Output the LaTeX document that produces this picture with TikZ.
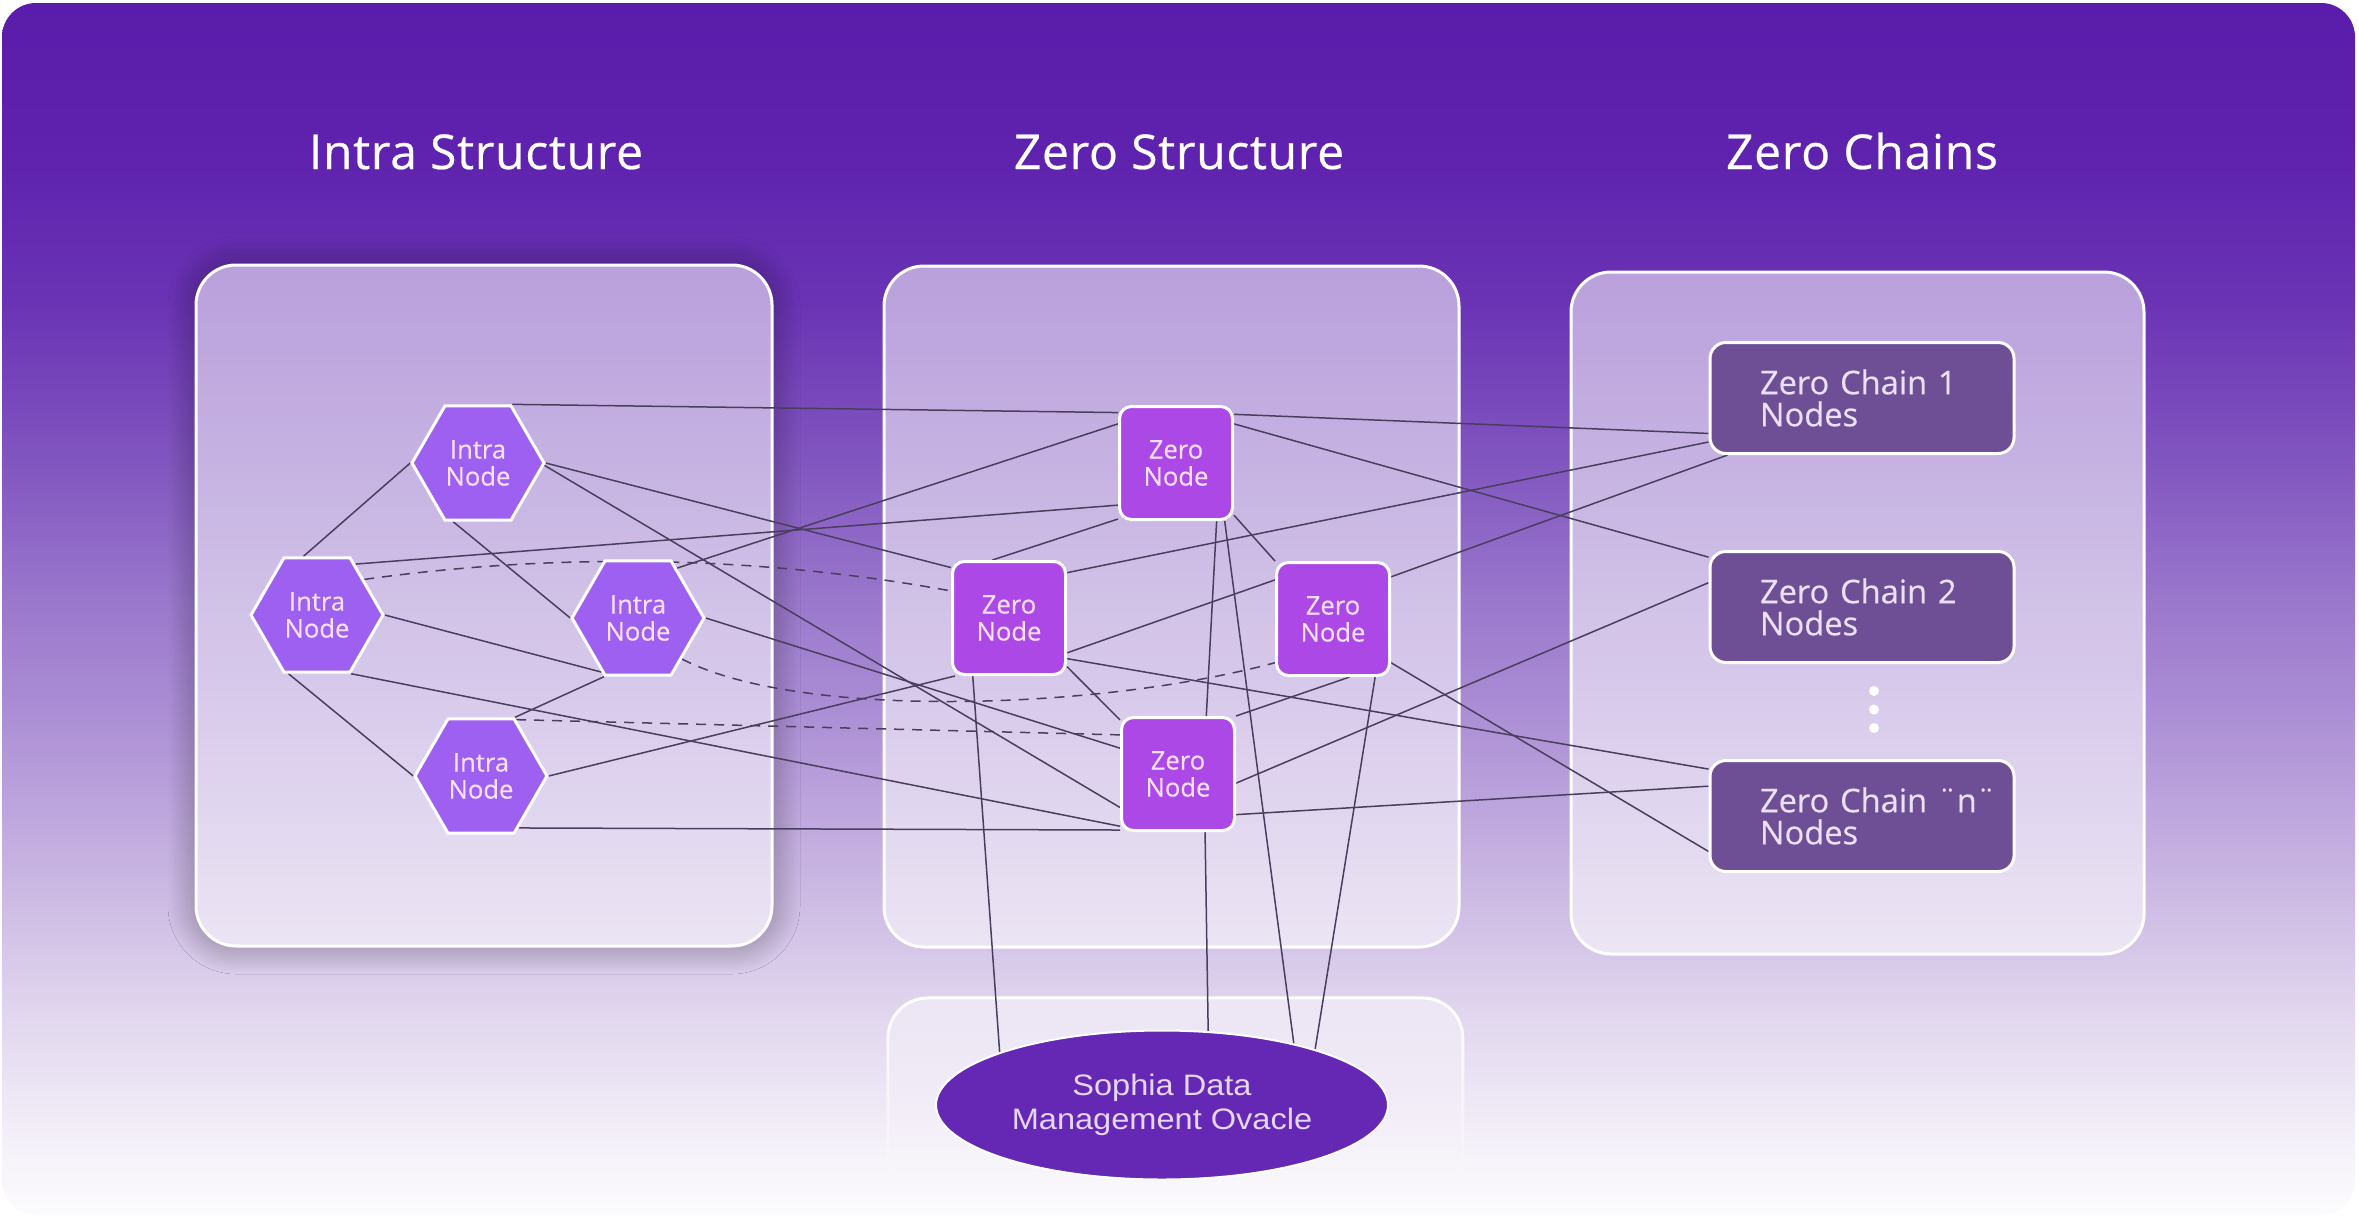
\documentclass[tikz,border=0pt]{standalone}
\usepackage{fontspec}
\setmainfont{Open Sans}
\newfontfamily\headfont[FakeBold=0.5, LetterSpace=1.5]{Open Sans}
\newfontfamily\boxfont[FakeBold=0.4]{Open Sans}
\newfontfamily\ovalfont[FakeStretch=1.1]{Liberation Sans}
\usetikzlibrary{shapes.geometric,shadows.blur,fadings}

\definecolor{bgA}{RGB}{252,251,253}
\definecolor{bgB}{RGB}{247,244,250}
\definecolor{bgC}{RGB}{224,213,238}
\definecolor{bgD}{RGB}{197,176,224}
\definecolor{bgE}{RGB}{169,139,212}
\definecolor{bgF}{RGB}{154,120,204}
\definecolor{bgG}{RGB}{130,87,192}
\definecolor{bgH}{RGB}{106,51,180}
\definecolor{bgI}{RGB}{94,34,174}
\definecolor{bgJ}{RGB}{90,29,171}
\definecolor{linkgray}{RGB}{74,62,94}
\definecolor{hexviolet}{RGB}{157,96,240}
\definecolor{zeroviolet}{RGB}{172,72,230}
\definecolor{chainpurple}{RGB}{110,79,150}
\definecolor{ovalpurple}{RGB}{101,40,180}
\definecolor{nodetext}{RGB}{250,224,255}
\definecolor{chaintext}{RGB}{236,224,248}
\definecolor{ovaltext}{RGB}{230,214,246}

\pgfdeclareverticalshading{bgshade}{100bp}{color(0bp)=(bgA); color(25bp)=(bgA); color(27.15bp)=(bgB); color(33.55bp)=(bgC); color(39.9bp)=(bgD); color(46.3bp)=(bgE); color(50.3bp)=(bgF); color(55.85bp)=(bgG); color(62.65bp)=(bgH); color(68.85bp)=(bgI); color(75bp)=(bgJ); color(100bp)=(bgJ)}
\tikzfading[name=fadedown, top color=transparent!0, bottom color=transparent!100]

\pgfdeclarelayer{back}
\pgfdeclarelayer{links}
\pgfsetlayers{back,links,main}

\begin{document}
\begin{tikzpicture}[x=0.5pt,y=0.5pt,yscale=-1,
  link/.style={draw=linkgray, line width=0.75pt},
  dlink/.style={link, dash pattern=on 5pt off 4pt},
  panel/.style={rounded corners=20pt, fill=white, fill opacity=0.55, draw=white, line width=1.5pt},
  hexnode/.style={regular polygon, regular polygon sides=6, minimum size=66pt, inner sep=0pt, fill=hexviolet, draw=white, line width=1.5pt, text=nodetext, align=center, font=\boxfont\fontsize{12.8}{13.5}\selectfont},
  zeronode/.style={rectangle, rounded corners=6pt, minimum size=56.5pt, inner sep=0pt, fill=zeroviolet, draw=white, line width=1.5pt, text=nodetext, align=center, font=\boxfont\fontsize{12.8}{13.5}\selectfont},
  chainnode/.style={rectangle, rounded corners=8pt, minimum height=55.5pt, text width=102pt, inner xsep=25pt, fill=chainpurple, draw=white, line width=1.5pt, text=chaintext, align=left, font=\boxfont\fontsize{16.3}{16}\selectfont},
  oracle/.style={ellipse, minimum width=226pt, minimum height=74.5pt, inner sep=0pt, fill=ovalpurple, draw=white, line width=1pt, text=ovaltext, align=center, font=\ovalfont\fontsize{14.8}{17}\selectfont},
  heading/.style={text=white, anchor=base, font=\headfont\fontsize{24}{28}\selectfont}
]
\useasboundingbox (0,0) rectangle (2359,1215);

\begin{pgfonlayer}{back}
%Shape: Background
\shade[shading=bgshade, rounded corners=17pt] (2,1215) -- (2,3) -- (2355,3) -- (2355,1215) -- cycle;
%Shape: Shadow of the intra panel
\begin{scope}[even odd rule]
\clip (0,0) rectangle (2359,1215) [rounded corners=20pt] (196,265) rectangle (772,946);
\path[rounded corners=20pt, blur shadow={shadow xshift=0pt, shadow yshift=0pt, shadow blur radius=14pt, shadow blur steps=24, shadow opacity=38}] (196,265) rectangle (772,946);
\end{scope}
%Shape: Panels
\draw[panel] (196,265) rectangle (772,946);
\draw[panel] (884,266) rectangle (1459,947);
\draw[panel] (1571,272) rectangle (2144,954);
\draw[panel, fill opacity=0.45, path fading=fadedown] (888,998) rectangle (1463,1200);
\end{pgfonlayer}

% Text Node
\node[heading] (t1) at (476,169) {Intra Structure};
\node[heading] (t2) at (1179,169) {Zero Structure};
\node[heading] (t3) at (1862,169) {Zero Chains};

%Shape: Intra nodes
\node[hexnode] (in1) at (478,463) {Intra\\Node};
\node[hexnode] (in2) at (317,615) {Intra\\Node};
\node[hexnode] (in3) at (638,618) {Intra\\Node};
\node[hexnode] (in4) at (481,776) {Intra\\Node};

%Shape: Zero nodes
\node[zeronode] (znt) at (1176,463) {Zero\\Node};
\node[zeronode] (znl) at (1009,618) {Zero\\Node};
\node[zeronode] (znr) at (1333,619) {Zero\\Node};
\node[zeronode] (znb) at (1178,774) {Zero\\Node};

%Shape: Zero chains
\node[chainnode] (zc1) at (1862,398) {Zero~Chain~1\\Nodes};
\node[chainnode] (zc2) at (1862,607) {Zero~Chain~2\\Nodes};
\node[chainnode] (zcn) at (1862,816) {Zero~Chain~¨n¨\\Nodes};
\foreach \dy in {691,709.5,728}
  \fill[white] (1874,\dy) circle (2.5pt);

%Shape: Ellipse
\node[oracle] (sdmo) at (1162,1105) {Sophia Data\\Management Ovacle};

\begin{pgfonlayer}{links}
%Straight Lines inside the intra structure
\draw[link] (in2.103) -- (in1.180);
\draw[link] (in1.247) -- (in3.180);
\draw[link] (in2.244) -- (in4.180);
\draw[link] (in2.0) -- (in3.236);
\draw[link] (in3.240) -- (in4.60);
%Straight Lines intra to zero
\draw[link] (in1.60) -- (znt.139);
\draw[link] (in3.52) -- (znt.146);
\draw[link] (in2.53) -- (znt.216);
\draw[link] (in1.0) -- (znl.139);
\draw[link] (in1.358) -- (znb.210);
\draw[link] (in3.0) -- (znb.156);
\draw[link] (in2.300) -- (znb.222);
\draw[link] (in4.306) -- (znb.224);
\draw[link] (in4.0) -- (znl.227);
%Dashed Lines
\draw[dlink] (in2.37) .. controls (560,552) and (760,556) .. (znl.155);
\draw[dlink] (in3.317) .. controls (800,720) and (1100,710) .. (znr.217);
\draw[dlink] (in4.58) -- (znb.146);
%Straight Lines inside the zero structure
\draw[link] (znt.224) -- (znl.106);
\draw[link] (znt.305) -- (znb.64);
\draw[link] (znt.318) -- (znr.135);
\draw[link] (znl.329) -- (znr.146);
\draw[link] (znl.320) -- (znb.137);
\draw[link] (znr.286) -- (znb.45);
%Straight Lines zero to chains
\draw[link] (znt.40) -- (zc1.193);
\draw[link] (znt.34) -- (zc2.162);
\draw[link] (znl.38) -- (zc1.196);
\draw[link] (znr.36) -- (zc1.203);
\draw[link] (znl.325) -- (zcn.163);
\draw[link] (znb.351) -- (zc2.171);
\draw[link] (znb.325) -- (zcn.169);
\draw[link] (znr.323) -- (zcn.193);
%Straight Lines to the ovacle
\draw[link] (znl.238) -- (sdmo.162);
\draw[link] (znt.310) -- (sdmo.25);
\draw[link] (znb.295) -- (sdmo.58);
\draw[link] (znr.306) -- (sdmo.20);
\end{pgfonlayer}

\end{tikzpicture}
\end{document}
